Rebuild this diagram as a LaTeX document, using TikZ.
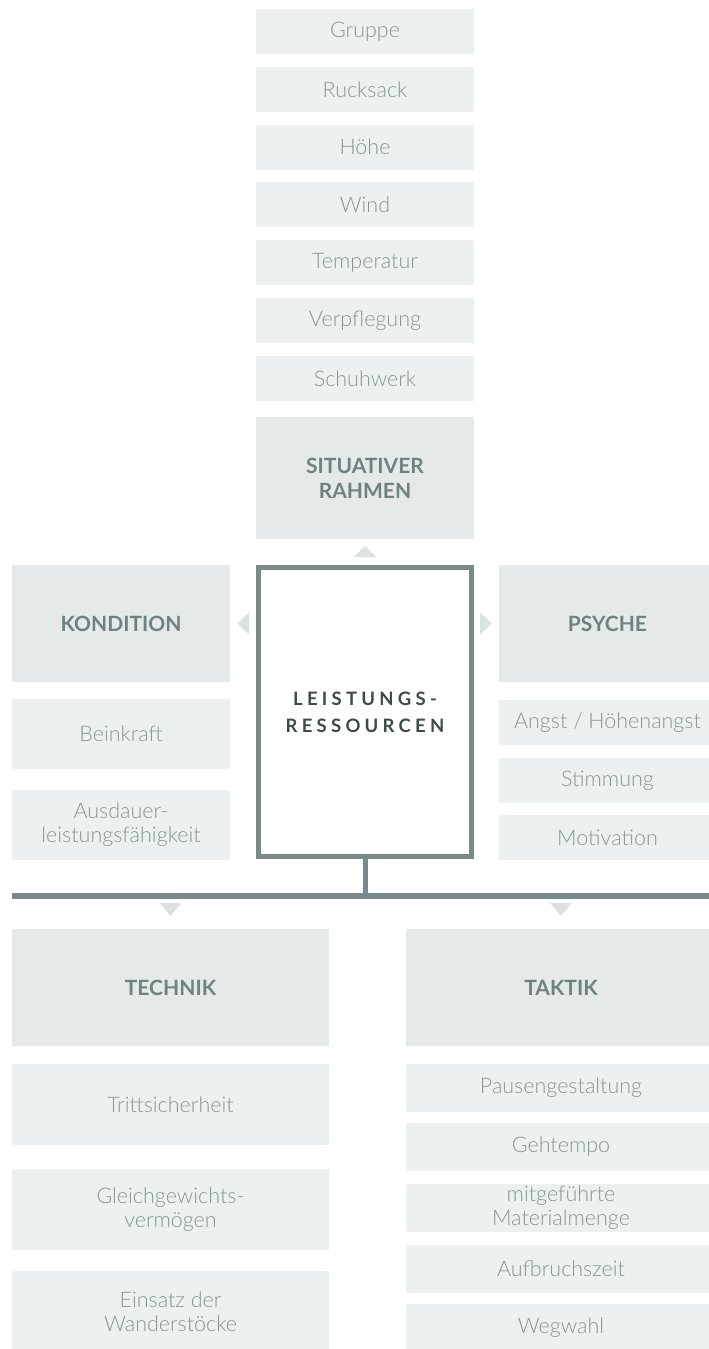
\documentclass[tikz,border=0pt]{standalone}
\usepackage{fontspec}
\setmainfont{Lato}
\newfontfamily\lightf{Lato Light}
\newfontfamily\spacedf{Lato}[UprightFont=* Bold, LetterSpace=23]
\usetikzlibrary{calc}
\definecolor{itemfill}{HTML}{ECF0F0}
\definecolor{headfill}{HTML}{E5E9E9}
\definecolor{itemtext}{HTML}{879696}
\definecolor{headtext}{HTML}{6F8282}
\definecolor{darktext}{HTML}{3D4B4B}
\definecolor{linecol}{HTML}{788A8A}
\definecolor{tricol}{HTML}{DCE1E1}
\tikzset{
  box/.style={anchor=north west, inner sep=0pt, outer sep=0pt, align=center},
  item/.style={box, fill=itemfill, text=itemtext, font=\lightf\fontsize{21.5}{24}\selectfont},
  head/.style={box, fill=headfill, text=headtext, font=\bfseries\fontsize{21}{25}\selectfont},
  core/.style={draw=linecol, line width=5pt, fill=white, inner sep=0pt, outer sep=0pt, align=center,
    text=darktext, font=\spacedf\fontsize{18.5}{27}\selectfont},
  conn/.style={draw=linecol, line width=5pt},
  marker/.style={fill=tricol, draw=none},
}
\begin{document}
\begin{tikzpicture}[x=1pt,y=-1pt]
\useasboundingbox (0,0) rectangle (709,1349);
% top column
\node[item, minimum width=218pt, minimum height=45pt] (gruppe) at (256,9) {Gruppe};
\node[item, minimum width=218pt, minimum height=45pt] (rucksack) at (256,66.8) {Rucksack};
\node[item, minimum width=218pt, minimum height=45pt] (hoehe) at (256,124.6) {Höhe};
\node[item, minimum width=218pt, minimum height=45pt] (wind) at (256,182.4) {Wind};
\node[item, minimum width=218pt, minimum height=45pt] (temp) at (256,240.2) {Temperatur};
\node[item, minimum width=218pt, minimum height=45pt] (verpf) at (256,298) {Verpflegung};
\node[item, minimum width=218pt, minimum height=45pt] (schuh) at (256,355.8) {Schuhwerk};
\node[head, minimum width=218pt, minimum height=122pt] (sit) at (256,417) {SITUATIVER\\RAHMEN};
% core
\node[core, minimum width=213pt, minimum height=289pt] (core) at (365,712) {LEISTUNGS-\\RESSOURCEN};
% left
\node[head, minimum width=218pt, minimum height=117pt] (kond) at (12,565) {KONDITION};
\node[item, minimum width=218pt, minimum height=70pt] (bein) at (12,699) {Beinkraft};
\node[item, minimum width=218pt, minimum height=70pt] (ausd) at (12,790) {Ausdauer-\\leistungsfähigkeit};
% right
\node[head, minimum width=217pt, minimum height=117pt] (psy) at (499,565) {PSYCHE};
\node[item, minimum width=217pt, minimum height=45pt] (angst) at (499,700) {Angst / Höhenangst};
\node[item, minimum width=217pt, minimum height=45pt] (stimm) at (499,758) {Stimmung};
\node[item, minimum width=217pt, minimum height=45pt] (motiv) at (499,815) {Motivation};
% bottom left
\node[head, minimum width=317pt, minimum height=117pt] (tech) at (12,929) {TECHNIK};
\node[item, minimum width=317pt, minimum height=81pt] (tritt) at (12,1064) {Trittsicherheit};
\node[item, minimum width=317pt, minimum height=81pt] (gleich) at (12,1169) {Gleichgewichts-\\vermögen};
\node[item, minimum width=317pt, minimum height=81pt] (einsatz) at (12,1271) {Einsatz der\\Wanderstöcke};
% bottom right
\node[head, minimum width=310pt, minimum height=117pt] (takt) at (406,929) {TAKTIK};
\node[item, minimum width=310pt, minimum height=48pt] (pause) at (406,1064) {Pausengestaltung};
\node[item, minimum width=310pt, minimum height=48pt] (geh) at (406,1123) {Gehtempo};
\node[item, minimum width=310pt, minimum height=48pt] (mat) at (406,1184) {mitgeführte\\Materialmenge};
\node[item, minimum width=310pt, minimum height=48pt] (aufb) at (406,1245) {Aufbruchszeit};
\node[item, minimum width=310pt, minimum height=48pt] (weg) at (406,1304) {Wegwahl};
% connectors
\coordinate (hl) at (12,896);
\coordinate (hr) at (709,896);
\draw[conn, line width=6pt] (hl) -- (hr);
\draw[conn] (core.south) -- (core.south |- hl);
% markers
\fill[marker] ($(sit.south)+(-11.5,18)$) -- ($(sit.south)+(11.5,18)$) -- ($(sit.south)+(0,7)$) -- cycle;
\fill[marker] ($(kond.east)+(19,-11)$) -- ($(kond.east)+(19,11)$) -- ($(kond.east)+(7,0)$) -- cycle;
\fill[marker] ($(psy.west)+(-19,-11)$) -- ($(psy.west)+(-19,11)$) -- ($(psy.west)+(-7,0)$) -- cycle;
\fill[marker] ($(tech.north)+(-11,-26)$) -- ($(tech.north)+(11,-26)$) -- ($(tech.north)+(0,-13)$) -- cycle;
\fill[marker] ($(takt.north)+(-11,-26)$) -- ($(takt.north)+(11,-26)$) -- ($(takt.north)+(0,-13)$) -- cycle;
\end{tikzpicture}
\end{document}
